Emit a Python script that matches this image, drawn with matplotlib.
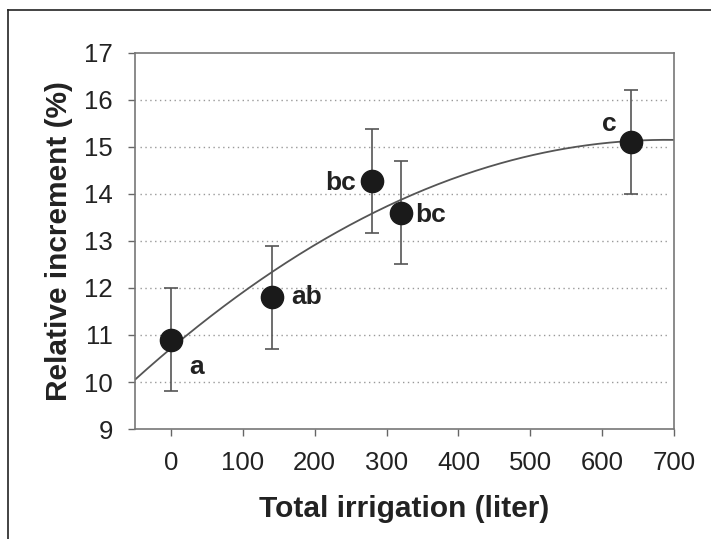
import numpy as np
import matplotlib
matplotlib.use("Agg")
import matplotlib.pyplot as plt
from matplotlib.lines import Line2D

plt.rcParams['font.family'] = ['Liberation Sans', 'DejaVu Sans']

# Data
irrigation = [0, 140, 280, 320, 640]
increment = [10.9, 11.8, 14.27, 13.6, 15.1]
err = [1.1, 1.1, 1.1, 1.1, 1.1]
letters = ['a', 'ab', 'bc', 'bc', 'c']
# quadratic fit coefficients (intercept, linear, quadratic)
fit_coef = [10.717, 0.012848, -9.31e-6]
x_ticks = [0, 100, 200, 300, 400, 500, 600, 700]
y_ticks = [9, 10, 11, 12, 13, 14, 15, 16, 17]

fig = plt.figure(figsize=(7.11, 5.39), dpi=100)
ax = fig.add_axes([0.190, 0.204, 0.758, 0.698])

# grid
for yv in y_ticks[1:-1]:
    ax.axhline(yv, color='#999999', lw=1.0, ls=(0, (1, 2.5)), xmin=0.01, xmax=0.99, zorder=0)

# curve
xc = np.linspace(-50, 700, 300)
yc = fit_coef[0] + fit_coef[1] * xc + fit_coef[2] * xc ** 2
ax.plot(xc, yc, color='#555555', lw=1.3, zorder=2)

ax.errorbar(irrigation, increment, yerr=err, fmt='none', ecolor='#555555',
            elinewidth=1.2, capsize=5, capthick=1.2, zorder=3)
ax.plot(irrigation, increment, 'o', color='#1a1a1a', ms=16, zorder=4)

offsets = [(13, -20, 'left'), (14, 0, 'left'), (-12, -1, 'right'), (10, -2, 'left'), (-10, 13, 'right')]
for xi, yi, lab, (dx, dy, ha) in zip(irrigation, increment, letters, offsets):
    ax.annotate(lab, (xi, yi), xytext=(dx, dy), textcoords='offset points',
                ha=ha, va='center', fontsize=19, fontweight='bold', color='#222222')

ax.set_xlim(-50, 700)
ax.set_ylim(9, 17)
ax.set_xticks(x_ticks)
ax.set_yticks(y_ticks)
ax.tick_params(axis='both', direction='out', length=5, width=1, color='#666666',
               labelsize=18.5, labelcolor='#222222')
ax.tick_params(axis='x', pad=11)
ax.tick_params(axis='y', pad=11)
for s in ax.spines.values():
    s.set_color('#777777')
    s.set_linewidth(1.2)

ax.set_xlabel('Total irrigation (liter)', fontsize=21.5, fontweight='bold', color='#222222', labelpad=14)
ax.set_ylabel('Relative increment (%)', fontsize=21.5, fontweight='bold', color='#222222', labelpad=8)

# outer frame (left and top)
fig.add_artist(Line2D([8/711, 8/711], [0, 1 - 10/539], transform=fig.transFigure, color='#222222', lw=1.2))
fig.add_artist(Line2D([8/711, 1], [1 - 10/539, 1 - 10/539], transform=fig.transFigure, color='#222222', lw=1.2))

fig.savefig('out.png', dpi=100)
